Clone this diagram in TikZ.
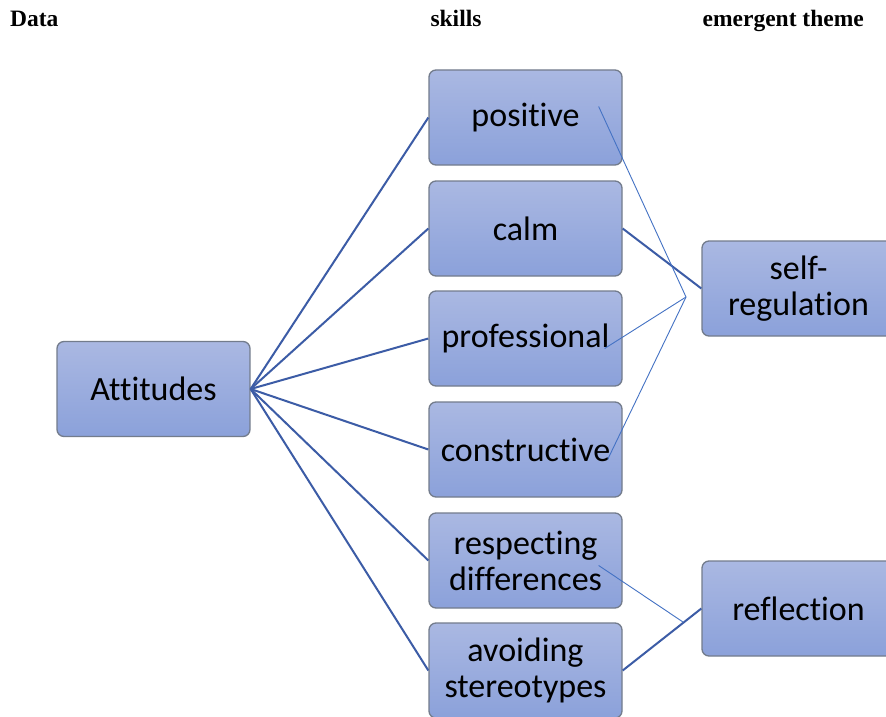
\documentclass[tikz,border=0pt]{standalone}
\usepackage{fontspec}
\setmainfont[Ligatures=CommonOff]{Carlito}
\newfontfamily\headfont{Liberation Serif}
\definecolor{boxtop}{HTML}{AAB8E2}
\definecolor{boxbot}{HTML}{8BA1DA}
\definecolor{boxborder}{HTML}{737C8C}
\definecolor{thickblue}{HTML}{3C5CA6}
\definecolor{thinblue}{HTML}{4472C4}
\tikzset{
  box/.style={rectangle, rounded corners=7pt, draw=boxborder, line width=1.3pt,
    top color=boxtop, bottom color=boxbot, minimum width=193pt, minimum height=95pt,
    inner sep=2pt, align=center, text=black, font=\fontsize{34}{36}\selectfont},
  head/.style={font=\headfont\bfseries\fontsize{23.5}{26}\selectfont, inner sep=0pt, anchor=base},
  thick link/.style={draw=thickblue, line width=2pt},
  thin link/.style={draw=thinblue, line width=0.9pt}
}
\begin{document}
\begin{tikzpicture}[x=1pt,y=-1pt]
\path[use as bounding box, clip] (0,0) rectangle (886,717);
\fill[white] (0,0) rectangle (886,717);
% headers
\node[head, anchor=base west] (hdata) at (10,27) {Data};
\node[head] (hskills) at (456,27) {skills};
\node[head, anchor=base east] (htheme) at (864,27) {emergent theme};
% boxes
\node[box] (att) at (153.5,389) {Attitudes};
\node[box] (pos) at (525.5,117.5) {positive};
\node[box] (calm) at (525.5,228.5) {calm};
\node[box] (prof) at (525.5,338.5) {professional};
\node[box] (cons) at (525.5,449.5) {constructive};
\node[box] (resp) at (525.5,560.5) {respecting\\differences};
\node[box] (avoid) at (525.5,670.5) {avoiding\\stereotypes};
\node[box] (self) at (798.5,288.5) {self-\\regulation};
\node[box] (refl) at (798.5,608.5) {reflection};
% thick connectors
\foreach \n in {pos,calm,prof,cons,resp,avoid}{
  \draw[thick link] (att.east) -- (\n.west);
}
\draw[thick link] (calm.east) -- (self.west);
\draw[thick link] (avoid.east) -- (refl.west);
% thin connectors
\coordinate (j1) at (686,297);
\coordinate (j2) at (683,622);
\coordinate (pe) at ([shift={(-24,-11)}]pos.east);
\coordinate (pre) at ([shift={(-18,10)}]prof.east);
\coordinate (ce) at ([shift={(-15,10)}]cons.east);
\coordinate (re) at ([shift={(-24,5)}]resp.east);
\draw[thin link] (pe) -- (j1);
\draw[thin link] (pre) -- (j1);
\draw[thin link] (ce) -- (j1);
\draw[thin link] (re) -- (j2);
\end{tikzpicture}
\end{document}
